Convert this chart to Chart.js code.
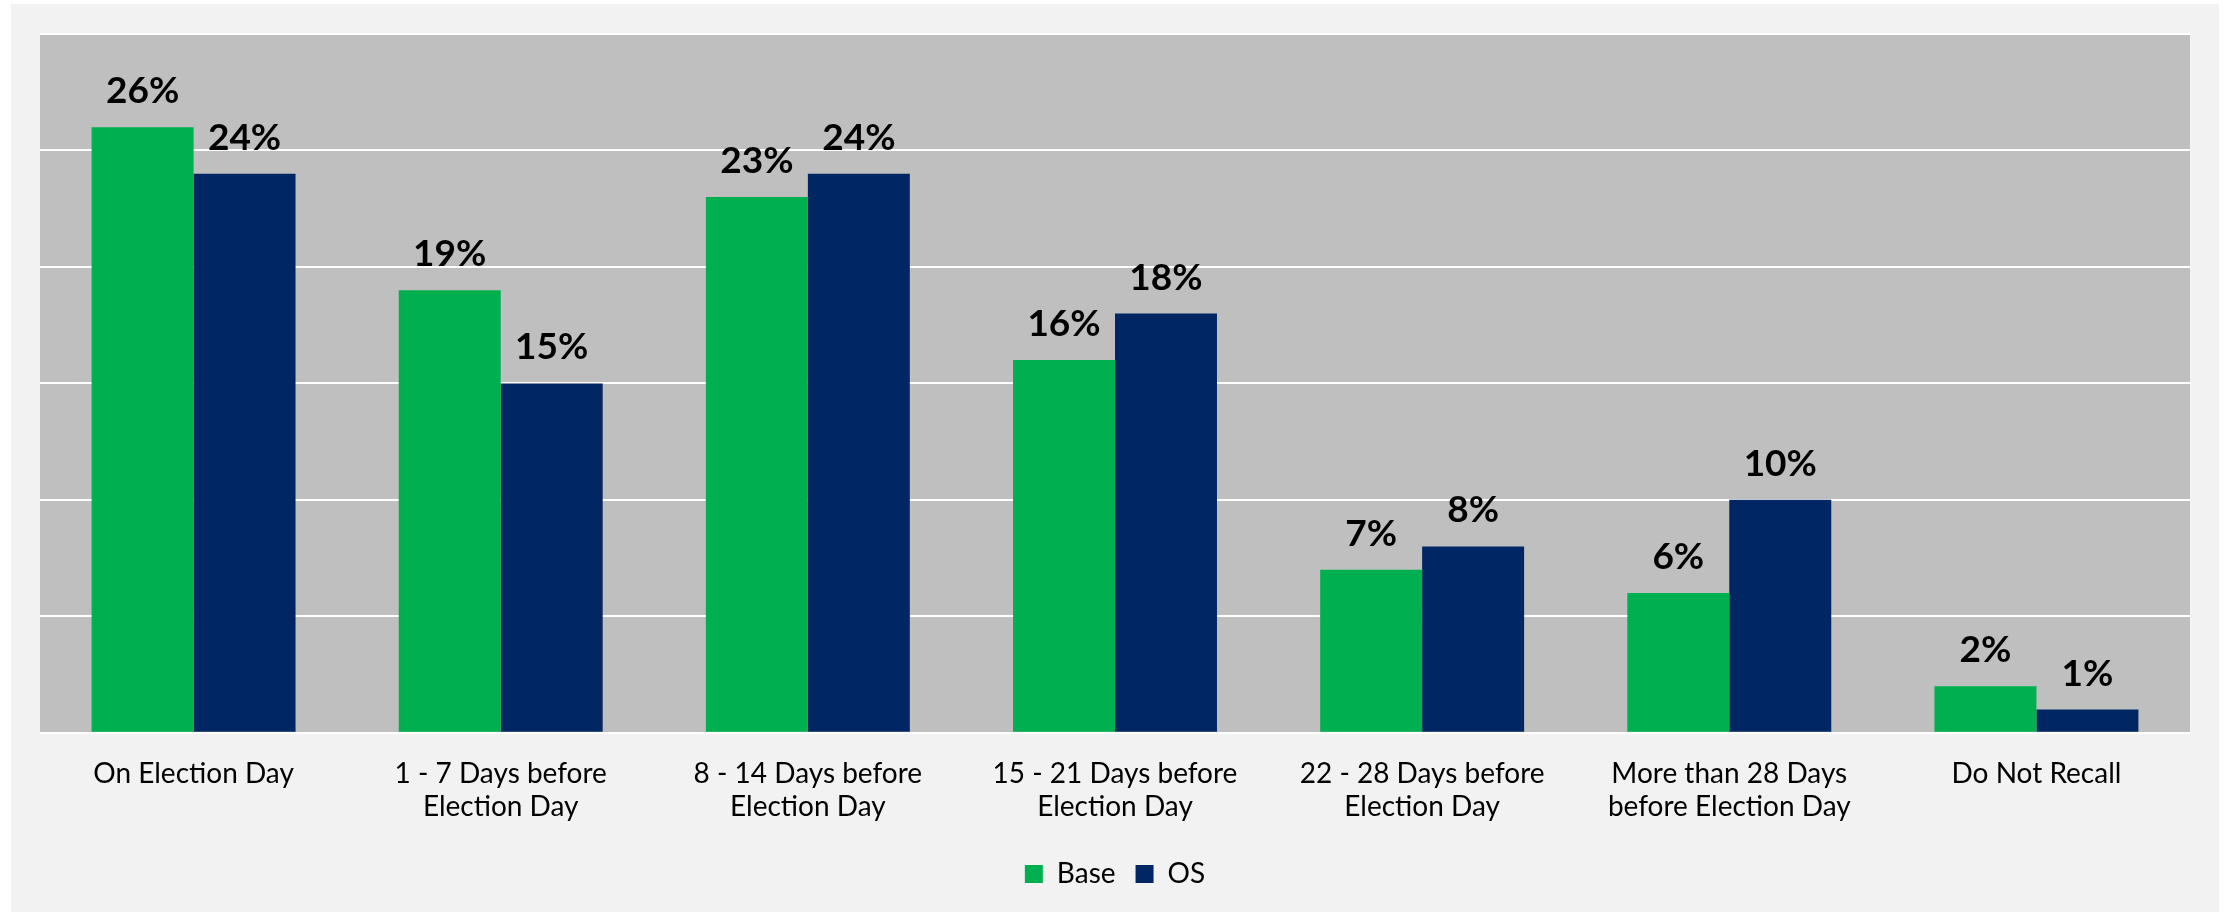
<!DOCTYPE html>
<html>
<head>
<meta charset="utf-8">
<script src="https://cdn.jsdelivr.net/npm/chart.js@4"></script>
<style>
  html, body { margin: 0; padding: 0; background: #ffffff; }
  #wrap {
    position: absolute; left: 11px; top: 4px;
    width: 2208px; height: 908px;
    background: #f2f2f2;
  }
</style>
</head>
<body>
<div id="wrap"><canvas id="grafica"></canvas></div>
<script>
const categorias = [
    'On Election Day',
    ['1 - 7 Days before', 'Election Day'],
    ['8 - 14 Days before', 'Election Day'],
    ['15 - 21 Days before', 'Election Day'],
    ['22 - 28 Days before', 'Election Day'],
    ['More than 28 Days', 'before Election Day'],
    'Do Not Recall'
];
const valoresBase = [26, 19, 23, 16, 7, 6, 2];
const valoresOS = [24, 15, 24, 18, 8, 10, 1];
const nombresSeries = ['Base', 'OS'];

const fuente = 'Lato, "Open Sans", sans-serif';

// fondo gris del area del grafico
const fondoPlot = {
    id: 'fondoPlot',
    beforeDraw(chart) {
        const a = chart.chartArea;
        const ctx = chart.ctx;
        ctx.save();
        ctx.fillStyle = '#bfbfbf';
        ctx.fillRect(a.left, a.top, a.right - a.left, a.bottom - a.top);
        ctx.restore();
    }
};

// etiquetas de valor encima de cada barra
const etiquetas = {
    id: 'etiquetas',
    afterDatasetsDraw(chart) {
        const ctx = chart.ctx;
        ctx.save();
        ctx.font = 'bold 37px ' + fuente;
        ctx.fillStyle = '#000000';
        ctx.textAlign = 'center';
        ctx.textBaseline = 'alphabetic';
        chart.data.datasets.forEach((ds, i) => {
            chart.getDatasetMeta(i).data.forEach((bar, j) => {
                ctx.fillText(ds.data[j] + '%', bar.x, bar.y - 24);
            });
        });
        ctx.restore();
    }
};

const ctx = document.getElementById('grafica').getContext('2d');
const chart = new Chart(ctx, {
    type: 'bar',
    data: {
        labels: categorias,
        datasets: [{
            label: nombresSeries[0],
            data: valoresBase,
            backgroundColor: '#00b050'
        }, {
            label: nombresSeries[1],
            data: valoresOS,
            backgroundColor: '#002664'
        }]
    },
    options: {
        responsive: true,
        maintainAspectRatio: false,
        animation: false,
        layout: {
            padding: { left: 29, right: 29, top: 30, bottom: 14 }
        },
        datasets: {
            bar: {
                barPercentage: 1,
                categoryPercentage: 0.664
            }
        },
        scales: {
            x: {
                grid: { display: false },
                border: { display: false },
                ticks: {
                    color: '#000000',
                    font: { family: fuente, size: 28 },
                    padding: 16,
                    maxRotation: 0,
                    autoSkip: false
                }
            },
            y: {
                min: 0,
                max: 30,
                ticks: { display: false, stepSize: 5 },
                border: { display: false },
                grid: { color: '#ffffff', lineWidth: 2, drawTicks: false }
            }
        },
        plugins: {
            legend: {
                position: 'bottom',
                labels: {
                    color: '#000000',
                    font: { family: fuente, size: 28 },
                    boxWidth: 18,
                    boxHeight: 18,
                    padding: 20
                }
            },
            tooltip: { enabled: false }
        }
    },
    plugins: [fondoPlot, etiquetas]
});
</script>
</body>
</html>
